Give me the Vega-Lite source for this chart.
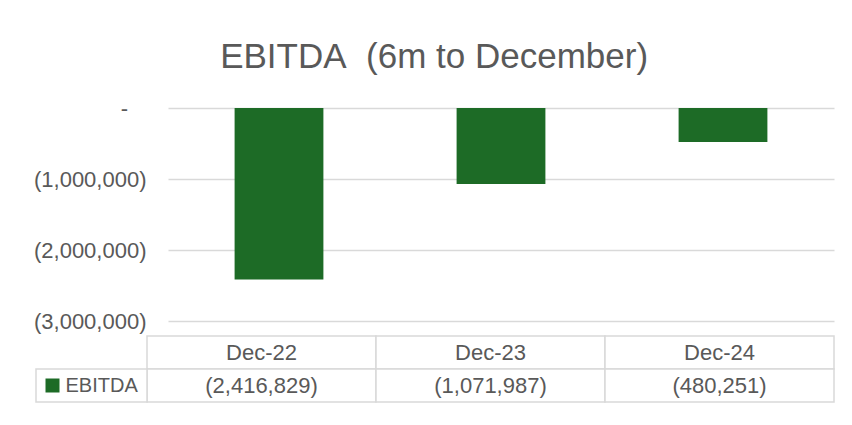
{
  "$schema": "https://vega.github.io/schema/vega-lite/v6.json",
  "padding": {"left": 33, "top": 40, "right": 17, "bottom": 0},
  "background": "white",
  "spacing": 3,
  "title": {
    "text": "EBITDA\u00a0 (6m to December)",
    "fontSize": 35,
    "font": "Liberation Sans",
    "fontWeight": "normal",
    "color": "#595959",
    "anchor": "middle",
    "offset": 22
  },
  "datasets": {
    "ebitda": [
      {"date": "Dec-22", "value": -2416829},
      {"date": "Dec-23", "value": -1071987},
      {"date": "Dec-24", "value": -480251}
    ],
    "series": [{"series": "EBITDA"}]
  },
  "config": {
    "view": {"stroke": null},
    "font": "Liberation Sans",
    "text": {"font": "Liberation Sans", "fontSize": 22, "color": "#595959"}
  },
  "vconcat": [
    {
      "width": 666,
      "height": 213,
      "data": {"name": "ebitda"},
      "mark": {"type": "bar", "color": "#1d6b26"},
      "encoding": {
        "x": {
          "field": "date",
          "type": "nominal",
          "sort": null,
          "axis": null,
          "scale": {"paddingInner": 0.6, "paddingOuter": 0.3}
        },
        "y": {
          "field": "value",
          "type": "quantitative",
          "scale": {"domain": [-3000000, 0], "nice": false},
          "axis": {
            "title": null,
            "values": [0, -1000000, -2000000, -3000000],
            "format": "(,.0f",
            "labelExpr": "datum.value == 0 ? '-\u00a0\u00a0\u00a0\u200c' : datum.label",
            "ticks": false,
            "domain": false,
            "labelPadding": 22,
            "labelFontSize": 22,
            "labelColor": "#595959",
            "labelFont": "Liberation Sans",
            "gridColor": "#d9d9d9",
            "gridWidth": 1.5
          }
        }
      }
    },
    {
      "width": 666,
      "height": 66,
      "resolve": {"scale": {"x": "independent"}},
      "layer": [
        {
          "data": {"name": "ebitda"},
          "encoding": {
            "x": {
              "field": "date",
              "type": "nominal",
              "sort": null,
              "axis": null,
              "scale": {"range": [-21, 666], "paddingInner": 0, "paddingOuter": 0}
            },
            "y": {
              "datum": "header",
              "type": "nominal",
              "axis": null,
              "scale": {"domain": ["header", "data"], "paddingInner": 0, "paddingOuter": 0}
            }
          },
          "layer": [
            {
              "mark": {"type": "rect", "fill": "white", "stroke": "#d9d9d9", "strokeWidth": 1.5}
            },
            {
              "mark": {"type": "rect", "fill": "white", "stroke": "#d9d9d9", "strokeWidth": 1.5},
              "encoding": {"y": {"datum": "data", "type": "nominal"}}
            },
            {
              "mark": {"type": "text"},
              "encoding": {"text": {"field": "date", "type": "nominal"}}
            },
            {
              "mark": {"type": "text"},
              "encoding": {
                "y": {"datum": "data", "type": "nominal"},
                "text": {"field": "value", "type": "quantitative", "format": "(,.0f"}
              }
            }
          ]
        },
        {
          "data": {"name": "series"},
          "encoding": {
            "x": {
              "field": "series",
              "type": "nominal",
              "axis": null,
              "scale": {"range": [-132, -21], "paddingInner": 0, "paddingOuter": 0}
            },
            "y": {"datum": "data", "type": "nominal"}
          },
          "layer": [
            {
              "mark": {"type": "rect", "fill": "white", "stroke": "#d9d9d9", "strokeWidth": 1.5}
            },
            {
              "mark": {"type": "point", "shape": "square", "filled": true, "opacity": 1, "size": 196, "color": "#1d6b26", "xOffset": -39}
            },
            {
              "mark": {"type": "text", "align": "left", "dx": -26, "fontSize": 20},
              "encoding": {"text": {"field": "series", "type": "nominal"}}
            }
          ]
        }
      ]
    }
  ]
}
